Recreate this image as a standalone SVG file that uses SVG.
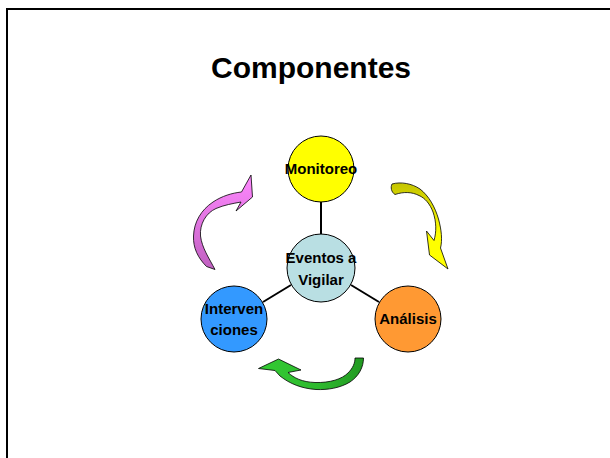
<svg xmlns="http://www.w3.org/2000/svg" width="610" height="458" viewBox="0 0 610 458">
<style>
.t{font-family:"Liberation Sans",Arial,sans-serif;font-weight:bold;fill:#000;text-anchor:middle}
.lbl{font-size:15px}
.node{stroke:#000;stroke-width:1}
.conn{stroke:#000;stroke-width:2;fill:none}
.arr{stroke:#000;stroke-width:0.8;stroke-linejoin:round}
</style>
<defs>
<linearGradient id="gPink" x1="0" y1="0" x2="0" y2="1">
<stop offset="0" stop-color="#ff88ff"/>
<stop offset="1" stop-color="#c060c0"/>
</linearGradient>
<linearGradient id="gYel" x1="0" y1="0" x2="0" y2="1">
<stop offset="0" stop-color="#c4c400"/>
<stop offset="0.6" stop-color="#ffff00"/>
<stop offset="1" stop-color="#ffff00"/>
</linearGradient>
<linearGradient id="gGrn" x1="0" y1="0" x2="1" y2="0">
<stop offset="0" stop-color="#33cc33"/>
<stop offset="0.6" stop-color="#2eb82e"/>
<stop offset="1" stop-color="#229922"/>
</linearGradient>
</defs>
<rect width="610" height="458" fill="#fff"/>
<path d="M7 458 V9 H610" fill="none" stroke="#000" stroke-width="2"/>
<text class="t" x="311" y="78" font-size="30">Componentes</text>

<g id="connectors">
<line class="conn" x1="321" y1="201" x2="321" y2="235"/>
<line class="conn" x1="291" y1="285" x2="263" y2="302"/>
<line class="conn" x1="351" y1="285" x2="379" y2="302"/>
</g>

<g id="arrows">
<path class="arr" fill="url(#gPink)" d="M206.5 266.5 L215 269.5 C209 258 202 248 200.5 236 C199.5 224 206 213 216 208.5 C224 205 233 203.5 241 202 L236 211 L252.5 197 L251 175 L241.5 192 C232 193 222 196 213 202 C201 210 194 222 193.5 236 C193 248 198 258 206.5 266.5 Z"/>
<path class="arr" fill="url(#gYel)" d="M392 184 C401 181.5 412 183.5 420 189 C429 196 435 207 438.5 219 C441.5 230 442.5 240 440.5 248 L448 269 L429.5 255 L426.5 231 L434 240.5 C436.5 232 436.5 222 433 212 C430 204 425 198 419 195.5 C412 192 404 191.5 395 194.5 C391 192 390.5 187 392 184 Z"/>
<path class="arr" fill="url(#gGrn)" d="M258.5 368.5 L278.5 359 L301 370 L288 372.5 C294 378 302 382 315 382.5 C330 383 342 379 348 373 C353 368 355 363 355 358 L363.5 358 C363.5 367 359 376 350 382 C340 388 328 390 316 389.5 C302 388.5 290 384 280 376 L275 370.5 Z"/>
</g>

<g id="monitoreo">
<circle class="node" cx="321" cy="169" r="33" fill="#ffff00"/>
<text class="t lbl" x="321" y="174">Monitoreo</text>
</g>
<g id="eventos">
<circle class="node" cx="321" cy="268" r="34" fill="#b9dfe3"/>
<text class="t lbl" x="321" y="263">Eventos a</text>
<text class="t lbl" x="321" y="285">Vigilar</text>
</g>
<g id="intervenciones">
<circle class="node" cx="234" cy="319" r="33" fill="#3399ff"/>
<text class="t lbl" x="234" y="314">Interven</text>
<text class="t lbl" x="234" y="335">ciones</text>
</g>
<g id="analisis">
<circle class="node" cx="408" cy="319" r="33" fill="#ff9933"/>
<text class="t lbl" x="408" y="324">Análisis</text>
</g>
</svg>
